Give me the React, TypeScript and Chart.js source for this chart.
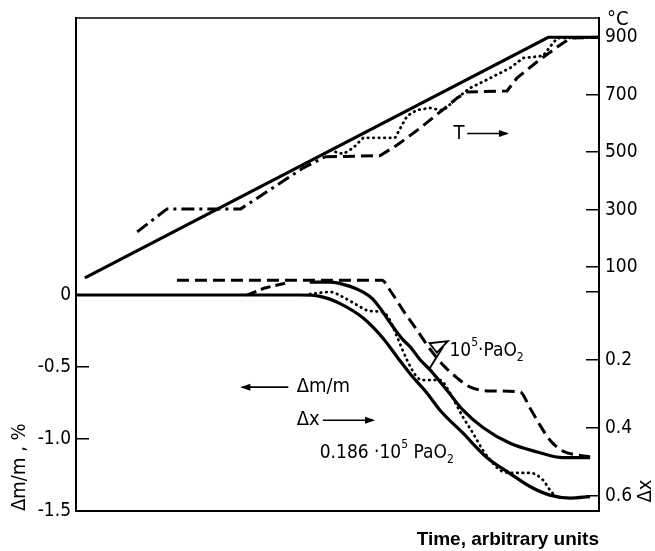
import React, { useEffect, useRef } from "react";
import { Chart, registerables } from "chart.js";

Chart.register(...registerables);

// ---------- data (time in arbitrary units 0..100) ----------
const timeMin = 0;
const timeMax = 100;

const dmTicks = [-1.5, -1.0, -0.5, 0];
const tempTicks = [100, 300, 500, 700, 900];
const dxTicks = [0, 0.2, 0.4, 0.6];

// Temperature curves [time, °C]
const tempProgram = [[1.7, 63], [90.3, 900], [100, 900]];
const tempDashDot = [[11.7, 223], [17.4, 303], [31.5, 303], [43.4, 445], [47.6, 484]];
const tempDashed = [
  [47.6, 484], [58.1, 488], [61.4, 525], [65.8, 584], [69.6, 640], [72.9, 689],
  [74.8, 710], [82.4, 713], [84.3, 758], [88.1, 814], [92.0, 866], [94.5, 897], [100, 900],
];
const tempDotted = [
  [48.6, 506], [51.1, 494], [53.0, 515], [54.9, 550], [61.0, 550], [63.3, 626],
  [65.2, 647], [67.7, 654], [70.2, 645], [72.9, 689], [75.3, 723], [79.2, 758],
  [83.0, 793], [85.5, 828], [89.3, 835], [90.6, 866], [92.0, 897], [100, 900],
];

// Δm/m curves [time, %]
const dmHighP = [
  [44.7, 0.09], [48.6, 0.09], [52.4, 0.06], [54.9, 0.02], [56.8, -0.03], [58.7, -0.12],
  [60.0, -0.19], [62.5, -0.31], [63.9, -0.36], [65.8, -0.45], [67.7, -0.52], [70.9, -0.66],
  [74.0, -0.8], [77.8, -0.92], [83.0, -1.03], [88.2, -1.09], [93.1, -1.13], [98.3, -1.13],
];
const dmLowP = [
  [0, 0], [42.8, 0], [46.7, -0.01], [50.5, -0.06], [54.9, -0.16], [58.7, -0.3],
  [61.4, -0.43], [64.4, -0.57], [67.1, -0.68], [69.6, -0.8], [74.0, -0.96], [78.6, -1.13],
  [83.0, -1.24], [86.8, -1.33], [90.6, -1.39], [94.5, -1.41], [98.3, -1.4],
];

// Δx curves [time, Δx]
const dxHighP = [
  [19.3, -0.035], [58.5, -0.035], [60.0, -0.006], [62.5, 0.053], [65.2, 0.112],
  [67.7, 0.168], [70.2, 0.215], [72.9, 0.253], [75.3, 0.279], [79.2, 0.291], [84.9, 0.294],
  [86.8, 0.341], [88.7, 0.391], [90.6, 0.435], [93.1, 0.468], [95.8, 0.479], [98.3, 0.485],
];
const dxHighPStart = [[32.7, 0.009], [36.1, -0.012], [40.9, -0.029]];
const dxLowP = [
  [44.7, 0.006], [48.6, 0.0], [51.1, 0.015], [53.7, 0.038], [56.2, 0.056], [58.7, 0.059],
  [60.0, 0.082], [61.4, 0.132], [63.3, 0.2], [65.2, 0.25], [66.4, 0.259], [69.6, 0.259],
  [71.5, 0.297], [74.0, 0.368], [75.9, 0.415], [77.8, 0.465], [79.2, 0.494], [81.1, 0.524],
  [83.6, 0.532], [86.8, 0.532], [89.3, 0.553], [90.6, 0.582], [91.6, 0.6],
];

// annotation anchors (time, value on the left Δm/m axis or temperature axis)
const noteT = { t: 72.2, temp: 565, arrowFrom: 74.8, arrowTo: 82.4 };
const noteDm = { t: 42.2, v: -0.64, arrowFrom: 40.6, arrowTo: 31.8 };
const noteDx = { t: 42.2, v: -0.87, arrowFrom: 47.2, arrowTo: 56.8 };
const noteLow = { t: 46.6, v: -1.095 };
const noteHigh = { t: 71.4, v: -0.39 };
const pointerTail = [[70.2, -0.36], [67.6, -0.51]];
const pointerHead = [[67.6, -0.335], [71.1, -0.32], [69.0, -0.4]];

// axis ranges
const dmMin = -1.5;
const dmMax = 1.9236;
const tempMin = -748;
const tempMax = 967;
const dxMin = -0.806;
const dxMax = 0.644;

const NARROW = "'Liberation Sans Narrow', 'DejaVu Sans Condensed', 'Liberation Sans', sans-serif";

const pts = (arr: number[][]) => arr.map(([x, y]) => ({ x, y }));

const noPad = (s: any) => {
  s.paddingTop = 0;
  s.paddingBottom = 0;
  s.paddingLeft = 0;
  s.paddingRight = 0;
};

export default function App() {
  const ref = useRef<HTMLCanvasElement | null>(null);

  useEffect(() => {
    if (!ref.current) return;

    const base = {
      borderColor: "#000",
      backgroundColor: "#000",
      pointRadius: 0,
      fill: false,
    };

    const drawRich = (ctx: CanvasRenderingContext2D, parts: { s: string; sz: number; dy: number }[], x: number, y: number) => {
      let cx = x;
      ctx.textAlign = "left";
      ctx.textBaseline = "middle";
      for (const p of parts) {
        ctx.font = `${p.sz}px ${NARROW}`;
        ctx.fillText(p.s, cx, y + p.dy);
        cx += ctx.measureText(p.s).width;
      }
    };

    const arrow = (ctx: CanvasRenderingContext2D, x1: number, y1: number, x2: number, y2: number) => {
      ctx.beginPath();
      ctx.moveTo(x1, y1);
      ctx.lineTo(x2, y2);
      ctx.lineWidth = 1.6;
      ctx.stroke();
      const dir = Math.sign(x2 - x1);
      ctx.beginPath();
      ctx.moveTo(x2 + dir * 2, y2);
      ctx.lineTo(x2 - dir * 8, y2 - 3.5);
      ctx.lineTo(x2 - dir * 8, y2 + 3.5);
      ctx.closePath();
      ctx.fill();
    };

    const notesPlugin = {
      id: "notes",
      afterLayout(chart: any) {
        // let the zero-width Δx axis draw its labels beyond its own box
        const s = chart.scales.yX;
        if (s) s.right = s.left + 56;
      },
      afterDraw(chart: any) {
        const { ctx, chartArea } = chart;
        const x = chart.scales.x;
        const y = chart.scales.y;
        const yT = chart.scales.yT;
        ctx.save();
        ctx.fillStyle = "#000";
        ctx.strokeStyle = "#000";
        // top frame line
        ctx.lineWidth = 1.5;
        ctx.beginPath();
        ctx.moveTo(chartArea.left, chartArea.top);
        ctx.lineTo(chartArea.right, chartArea.top);
        ctx.stroke();

        // T ->
        const ty = yT.getPixelForValue(noteT.temp);
        ctx.font = `20px ${NARROW}`;
        ctx.textAlign = "left";
        ctx.textBaseline = "middle";
        ctx.fillText("T", x.getPixelForValue(noteT.t), ty);
        arrow(ctx, x.getPixelForValue(noteT.arrowFrom), ty, x.getPixelForValue(noteT.arrowTo), ty);

        // <- Δm/m
        const dmy = y.getPixelForValue(noteDm.v);
        ctx.font = `20px ${NARROW}`;
        ctx.fillText("Δm/m", x.getPixelForValue(noteDm.t), dmy);
        arrow(ctx, x.getPixelForValue(noteDm.arrowFrom), dmy, x.getPixelForValue(noteDm.arrowTo), dmy);

        // Δx ->
        const dxy = y.getPixelForValue(noteDx.v);
        ctx.font = `20px ${NARROW}`;
        ctx.fillText("Δx", x.getPixelForValue(noteDx.t), dxy);
        arrow(ctx, x.getPixelForValue(noteDx.arrowFrom), dxy, x.getPixelForValue(noteDx.arrowTo), dxy);

        // 0.186·10^5 PaO2
        drawRich(
          ctx,
          [
            { s: "0.186 ·10", sz: 19, dy: 0 },
            { s: "5", sz: 12, dy: -8 },
            { s: " PaO", sz: 19, dy: 0 },
            { s: "2", sz: 12, dy: 7 },
          ],
          x.getPixelForValue(noteLow.t),
          y.getPixelForValue(noteLow.v)
        );
        // 10^5·PaO2
        drawRich(
          ctx,
          [
            { s: "10", sz: 19, dy: 0 },
            { s: "5", sz: 12, dy: -8 },
            { s: "·PaO", sz: 19, dy: 0 },
            { s: "2", sz: 12, dy: 7 },
          ],
          x.getPixelForValue(noteHigh.t),
          y.getPixelForValue(noteHigh.v)
        );
        // pointer
        ctx.lineWidth = 1.8;
        ctx.beginPath();
        ctx.moveTo(x.getPixelForValue(pointerTail[0][0]), y.getPixelForValue(pointerTail[0][1]));
        ctx.lineTo(x.getPixelForValue(pointerTail[1][0]), y.getPixelForValue(pointerTail[1][1]));
        ctx.stroke();
        ctx.beginPath();
        pointerHead.forEach(([t, v], i) => {
          const px = x.getPixelForValue(t);
          const py = y.getPixelForValue(v);
          if (i === 0) ctx.moveTo(px, py);
          else ctx.lineTo(px, py);
        });
        ctx.closePath();
        ctx.stroke();

        // °C and Δx labels on the right
        ctx.font = `20px ${NARROW}`;
        ctx.textAlign = "left";
        ctx.textBaseline = "middle";
        ctx.fillText("°C", chartArea.right + 8, chartArea.top + 2);
        ctx.save();
        ctx.translate(chartArea.right + 47, chartArea.bottom - 20);
        ctx.rotate(-Math.PI / 2);
        ctx.textAlign = "center";
        ctx.fillText("Δx", 0, 0);
        ctx.restore();
        ctx.restore();
      },
    };

    const tickFont = { family: NARROW, size: 19 };

    const chart = new Chart(ref.current, {
      type: "line",
      data: {
        datasets: [
          { ...base, data: pts(tempProgram), yAxisID: "yT", borderWidth: 3.2, tension: 0 },
          { ...base, data: pts(tempDashDot), yAxisID: "yT", borderWidth: 3, borderDash: [13, 5, 3, 5], tension: 0 },
          { ...base, data: pts(tempDashed), yAxisID: "yT", borderWidth: 3, borderDash: [12, 6], tension: 0 },
          { ...base, data: pts(tempDotted), yAxisID: "yT", borderWidth: 2.8, borderDash: [0.5, 5], borderCapStyle: "round", tension: 0 },
          { ...base, data: pts(dmHighP), yAxisID: "y", borderWidth: 3.2, cubicInterpolationMode: "monotone" },
          { ...base, data: pts(dmLowP), yAxisID: "y", borderWidth: 3.2, cubicInterpolationMode: "monotone" },
          { ...base, data: pts(dxHighP), yAxisID: "yX", borderWidth: 3, borderDash: [12, 6], cubicInterpolationMode: "monotone" },
          { ...base, data: pts(dxHighPStart), yAxisID: "yX", borderWidth: 3, borderDash: [10, 5], tension: 0 },
          { ...base, data: pts(dxLowP), yAxisID: "yX", borderWidth: 2.8, borderDash: [0.5, 5], borderCapStyle: "round", cubicInterpolationMode: "monotone" },
        ] as any,
      },
      options: {
        responsive: false,
        animation: false,
        devicePixelRatio: 1,
        layout: { padding: { top: 18, left: 0, right: 0, bottom: 0 }, autoPadding: false },
        plugins: { legend: { display: false }, tooltip: { enabled: false } },
        scales: {
          x: {
            type: "linear",
            min: timeMin,
            max: timeMax,
            grid: { display: false },
            border: { display: true, color: "#000", width: 2 },
            ticks: { display: false },
            title: {
              display: true,
              text: "Time, arbitrary units",
              align: "end",
              color: "#000",
              font: { family: "'Liberation Sans', sans-serif", size: 19, weight: "bold" },
              padding: { top: 0, bottom: 0 },
            },
            afterFit: (s: any) => {
              s.height = 40;
              noPad(s);
            },
          },
          y: {
            type: "linear",
            position: "left",
            min: dmMin,
            max: dmMax,
            border: { display: true, color: "#000", width: 2 },
            grid: { display: true, drawOnChartArea: false, drawTicks: true, tickLength: -13, color: "#000", lineWidth: 1.5 },
            ticks: {
              color: "#000",
              font: tickFont,
              padding: 18,
              autoSkip: false,
              callback: (v: any) => (Number(v) === 0 ? "0" : Number(v).toFixed(1)),
            },
            afterBuildTicks: (s: any) => {
              s.ticks = dmTicks.map((value) => ({ value }));
            },
            title: {
              display: true,
              text: "Δm/m , %",
              align: "start",
              color: "#000",
              font: { family: NARROW, size: 20 },
              padding: { top: 8, bottom: 0 },
            },
            afterFit: (s: any) => {
              s.width = 76;
              noPad(s);
            },
          },
          yX: {
            type: "linear",
            position: "right",
            weight: 0,
            reverse: true,
            min: dxMin,
            max: dxMax,
            border: { display: true, color: "#000", width: 2 },
            grid: { display: true, drawOnChartArea: false, drawTicks: true, tickLength: -13, color: "#000", lineWidth: 1.5 },
            ticks: {
              color: "#000",
              font: tickFont,
              padding: 19,
              autoSkip: false,
              callback: (v: any) => (Number(v) === 0 ? "" : Number(v).toFixed(1)),
            },
            afterBuildTicks: (s: any) => {
              s.ticks = dxTicks.map((value) => ({ value }));
            },
            afterFit: (s: any) => {
              s.width = 0;
              noPad(s);
            },
          },
          yT: {
            type: "linear",
            position: "right",
            weight: 1,
            min: tempMin,
            max: tempMax,
            border: { display: true, color: "#000", width: 2 },
            grid: { display: true, drawOnChartArea: false, drawTicks: true, tickLength: -13, color: "#000", lineWidth: 1.5 },
            ticks: {
              color: "#000",
              font: tickFont,
              padding: 19,
              autoSkip: false,
              callback: (v: any) => String(v),
            },
            afterBuildTicks: (s: any) => {
              s.ticks = tempTicks.map((value) => ({ value }));
            },
            afterFit: (s: any) => {
              s.width = 56;
              noPad(s);
            },
          },
        },
      } as any,
      plugins: [notesPlugin],
    });

    return () => chart.destroy();
  }, []);

  return (
    <div style={{ position: "absolute", left: 0, top: 0, width: 655, height: 551, background: "#fff" }}>
      <canvas ref={ref} width={655} height={551} style={{ display: "block" }} />
    </div>
  );
}
